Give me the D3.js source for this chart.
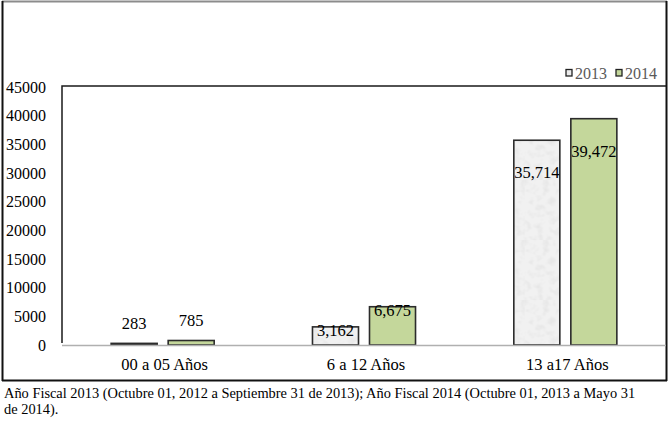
<!DOCTYPE html>
<html>
<head>
<meta charset="utf-8">
<script src="https://cdn.jsdelivr.net/npm/d3@7"></script>
<style>
  body { margin: 0; background: #fff; }
  svg { display: block; }
  svg text { font-family: "Liberation Serif", "Times New Roman", serif !important; }
</style>
</head>
<body>
<svg id="chart" width="670" height="423"></svg>
<script>
// ---- data ----
const categories = ["00 a 05 Años", "6 a 12 Años", "13 a17 Años"];
const seriesNames = ["2013", "2014"];
const values2013 = [283, 3162, 35714];
const values2014 = [785, 6675, 39472];
const yTicks = [0, 5000, 10000, 15000, 20000, 25000, 30000, 35000, 40000, 45000];
const captionLines = [
  "Año Fiscal 2013 (Octubre 01, 2012 a Septiembre 31 de 2013); Año Fiscal 2014 (Octubre 01, 2013 a Mayo 31",
  "de 2014)."
];

// ---- layout ----
const svg = d3.select("#chart");
const plot = { left: 62, right: 666, top: 86, bottom: 345 };

const defs = svg.append("defs");
const filt = defs.append("filter").attr("id", "noise").attr("x", 0).attr("y", 0).attr("width", "100%").attr("height", "100%");
filt.append("feTurbulence").attr("type", "fractalNoise").attr("baseFrequency", 0.16).attr("numOctaves", 2).attr("seed", 4);
filt.append("feColorMatrix").attr("type", "matrix")
  .attr("values", "0 0 0 0 0.75  0 0 0 0 0.75  0 0 0 0 0.75  1.6 0 0 0 -0.7");
const pat = defs.append("pattern").attr("id", "tex2013").attr("patternUnits", "userSpaceOnUse")
  .attr("width", 60).attr("height", 60);
pat.append("rect").attr("width", 60).attr("height", 60).attr("fill", "#f1f1f1");
pat.append("rect").attr("width", 60).attr("height", 60).attr("filter", "url(#noise)");

const colors = ["url(#tex2013)", "#c4d79b"];
const legendColors = ["#ececec", "#c4d79b"];

// outer frame
svg.append("line").attr("x1", 2).attr("x2", 667).attr("y1", 1.5).attr("y2", 1.5).attr("stroke", "#8c8c8c").attr("stroke-width", 2);
svg.append("line").attr("x1", 2.5).attr("x2", 2.5).attr("y1", 1).attr("y2", 381).attr("stroke", "#111").attr("stroke-width", 2);
svg.append("line").attr("x1", 666.5).attr("x2", 666.5).attr("y1", 1).attr("y2", 381).attr("stroke", "#111").attr("stroke-width", 2);
svg.append("line").attr("x1", 2).attr("x2", 667).attr("y1", 380.5).attr("y2", 380.5).attr("stroke", "#111").attr("stroke-width", 2);

const x0 = d3.scaleBand().domain(categories).range([plot.left, plot.right]);
const x1 = d3.scaleBand().domain(seriesNames).range([0, x0.bandwidth()]).paddingInner(0.193).paddingOuter(0.862);
const y = d3.scaleLinear().domain([0, 45000]).range([plot.bottom, plot.top + 1]);

// plot box
svg.append("path")
  .attr("d", `M${plot.left},${plot.bottom - 2}V${plot.top}H${plot.right}`)
  .attr("fill", "none").attr("stroke", "#1a1a1a").attr("stroke-width", 1.5);

// y axis
const yAxis = svg.append("g").attr("transform", `translate(46,0)`)
  .call(d3.axisLeft(y).tickValues(yTicks).tickSize(0).tickPadding(0).tickFormat(d3.format("d")));
yAxis.attr("font-family", null).attr("font-size", null);
yAxis.select(".domain").remove();
yAxis.selectAll("text").attr("font-size", 16).attr("fill", "#000");

// bars
const rows = categories.map((c, i) => ({ cat: c, vals: [values2013[i], values2014[i]] }));
const groups = svg.selectAll("g.grp").data(rows).join("g").attr("class", "grp")
  .attr("transform", d => `translate(${x0(d.cat)},0)`);

groups.selectAll("rect").data(d => d.vals.map((v, k) => ({ v, k })))
  .join("rect")
  .attr("x", d => x1(seriesNames[d.k]))
  .attr("y", d => y(d.v))
  .attr("width", x1.bandwidth())
  .attr("height", d => y(0) - y(d.v))
  .attr("fill", d => colors[d.k])
  .attr("stroke", "#2b2b2b").attr("stroke-width", 1.6);

// baseline
svg.append("line").attr("x1", plot.left).attr("x2", plot.right)
  .attr("y1", plot.bottom + 0.5).attr("y2", plot.bottom + 0.5)
  .attr("stroke", "#b0b0b0").attr("stroke-width", 1.5);

// data labels
const fmt = d3.format(",");
groups.selectAll("text.lbl").data(d => d.vals.map((v, k) => ({ v, k })))
  .join("text").attr("class", "lbl")
  .attr("x", d => x1(seriesNames[d.k]) + x1.bandwidth() / 2)
  .attr("y", d => {
    const h = y(0) - y(d.v);
    if (h > 150) return y(d.v) + 38;
    if (h > 12) return y(d.v) + 9;
    return y(d.v) - 14;
  })
  .attr("text-anchor", "middle").attr("font-size", 16.5).attr("fill", "#000")
  .text(d => fmt(d.v));

// category labels
svg.append("g").selectAll("text").data(categories).join("text")
  .attr("x", d => x0(d) + x0.bandwidth() / 2 + 2)
  .attr("y", 370)
  .attr("text-anchor", "middle").attr("font-size", 16.5).attr("fill", "#000")
  .text(d => d);

// legend
const leg = svg.append("g");
const legX = [566, 616];
seriesNames.forEach((s, i) => {
  leg.append("rect").attr("x", legX[i]).attr("y", 69.5).attr("width", 6).attr("height", 6.5)
    .attr("fill", legendColors[i]).attr("stroke", "#222").attr("stroke-width", 1.3);
  leg.append("text").attr("x", legX[i] + 9).attr("y", 78.5).attr("font-size", 16).attr("fill", "#595959").text(s);
});

// caption
svg.append("g").selectAll("text").data(captionLines).join("text")
  .attr("x", 4).attr("y", (d, i) => 398 + i * 16)
  .attr("font-size", 14.4).attr("fill", "#000")
  .text(d => d);
</script>
</body>
</html>
